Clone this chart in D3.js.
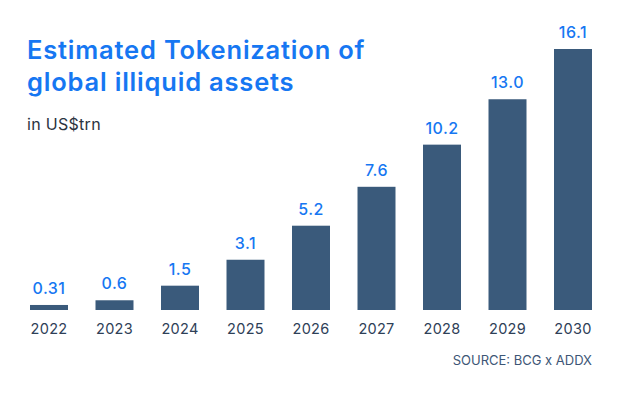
<!DOCTYPE html>
<html>
<head>
<meta charset="utf-8">
<script src="https://cdn.jsdelivr.net/npm/d3@7"></script>
<style>
  body { margin: 0; background: #fff; }
  text { font-family: Inter, "Noto Sans", sans-serif; }
</style>
</head>
<body>
<script>
let years = ["2022", "2023", "2024", "2025", "2026", "2027", "2028", "2029", "2030"];
let values = [0.31, 0.6, 1.5, 3.1, 5.2, 7.6, 10.2, 13.0, 16.1];
let valueLabels = ["0.31", "0.6", "1.5", "3.1", "5.2", "7.6", "10.2", "13.0", "16.1"];

let svg = d3.select("body").append("svg").attr("width", 624).attr("height", 396);

let x = d3.scaleBand().domain(years).range([16.9, 605.1]).paddingInner(0.42).paddingOuter(0.2);
let y = d3.scaleLinear().domain([0, 16.1]).range([310, 49]);

svg.selectAll("rect").data(values).enter().append("rect")
  .attr("x", (d, i) => x(years[i]))
  .attr("y", d => y(d))
  .attr("width", x.bandwidth())
  .attr("height", d => 310 - y(d))
  .attr("fill", "#3a5a7b");

svg.selectAll("text.val").data(values).enter().append("text").attr("class", "val")
  .attr("x", (d, i) => x(years[i]) + x.bandwidth() / 2)
  .attr("y", d => y(d) - 11)
  .attr("text-anchor", "middle")
  .attr("font-size", 16)
  .attr("font-weight", 500)
  .attr("letter-spacing", 0.5)
  .attr("fill", "#1677f2")
  .text((d, i) => valueLabels[i]);

let xAxis = svg.append("g").attr("transform", "translate(0,310)")
  .call(d3.axisBottom(x).tickSize(0).tickPadding(0));
xAxis.select(".domain").remove();
xAxis.selectAll("text").attr("dy", null).attr("y", 24).attr("font-size", 14.5).attr("fill", "#2e4057")
  .attr("letter-spacing", 0.3).attr("font-family", "Inter, sans-serif");

svg.append("text").attr("x", 27).attr("y", 59).attr("font-size", 25.5).attr("font-weight", 600)
  .attr("letter-spacing", 0.8).attr("fill", "#1677f2").text("Estimated Tokenization of");
svg.append("text").attr("x", 27).attr("y", 91).attr("font-size", 25.5).attr("font-weight", 600)
  .attr("letter-spacing", 0.8).attr("fill", "#1677f2").text("global illiquid assets");
svg.append("text").attr("x", 27).attr("y", 130).attr("font-size", 16).attr("letter-spacing", 0.3)
  .attr("fill", "#2b3440").text("in US$trn");
svg.append("text").attr("x", 592).attr("y", 365).attr("font-size", 13).attr("text-anchor", "end")
  .attr("fill", "#3d5676").text("SOURCE: BCG x ADDX");
</script>
</body>
</html>
